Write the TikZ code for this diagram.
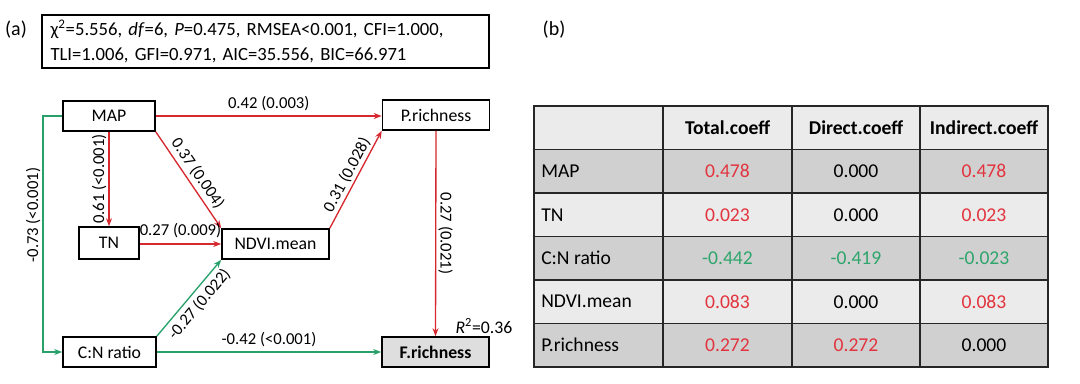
\documentclass[tikz,border=0pt]{standalone}
\usepackage{fontspec}
\setmainfont{Carlito}
\usepackage{tikz}
\usetikzlibrary{arrows.meta}
\definecolor{pathred}{RGB}{214,40,47}
\definecolor{pathgreen}{RGB}{40,160,105}
\definecolor{valred}{RGB}{226,52,62}
\definecolor{valgreen}{RGB}{46,165,107}
\definecolor{lightrow}{RGB}{235,235,235}
\definecolor{darkrow}{RGB}{208,208,208}
\definecolor{boxgray}{RGB}{222,222,222}
\newlength\pxu
\setlength\pxu{0.75pt}

\begin{document}
\begin{tikzpicture}[x=0.75pt,y=-0.75pt,
  box/.style={draw,line width=1.2pt,minimum height=30\pxu,inner sep=0pt,font=\fontsize{13.3}{16}\selectfont},
  lab/.style={font=\fontsize{12.5}{15}\selectfont,inner sep=1.5pt},
  posarr/.style={draw=pathred,line width=1pt,-{Stealth[length=6pt,width=4.5pt]}},
  negarr/.style={draw=pathgreen,line width=1pt,-{Stealth[length=6pt,width=4.5pt]}},
  cell/.style={font=\fontsize{14.7}{17}\selectfont,inner sep=0pt},
  head/.style={font=\fontsize{14.7}{17}\selectfont\bfseries,inner sep=0pt}]
\useasboundingbox (0,0) rectangle (1080,383);

% (a) path model
\node[font=\fontsize{15}{17}\selectfont] (pa) at (16,30) {(a)};
\node[draw,line width=0.9pt,minimum width=447\pxu,minimum height=53\pxu,text width=430\pxu,
  align=left,inner xsep=8\pxu,font=\fontsize{14}{19}\selectfont] (fit) at (265.5,41.5)
  {χ\textsuperscript{2}=5.556, \textit{df}=6, \textit{P}=0.475, RMSEA<0.001, CFI=1.000,\\
   TLI=1.006, GFI=0.971, AIC=35.556, BIC=66.971};

\node[box,minimum width=92\pxu] (map) at (109,116) {MAP};
\node[box,minimum width=107\pxu] (prich) at (436,115) {P.richness};
\node[box,minimum width=60\pxu,minimum height=32\pxu] (tn) at (109,243) {TN};
\node[box,minimum width=107\pxu] (ndvi) at (275.5,244) {NDVI.mean};
\node[box,minimum width=93\pxu] (cn) at (109.5,352) {C:N ratio};
\node[box,minimum width=107\pxu,fill=boxgray,font=\fontsize{13.3}{16}\selectfont\bfseries] (frich) at (435.5,352) {F.richness};
\node[lab,font=\fontsize{13.3}{16}\selectfont] (r2) at (484,326) {\textit{R}\textsuperscript{2}=0.36};

\coordinate (bend) at (43,116);

\draw[posarr] (map.east) -- (map.east -| prich.west) node[lab,midway,above=2pt] {0.42 (0.003)};
\draw[posarr] (map.south) -- (tn.north) node[lab,midway,rotate=90,anchor=south] {0.61 (<0.001)};
\draw[posarr] (map.south east) -- (ndvi.north west) node[lab,midway,sloped,above=1pt] {0.37 (0.004)};
\draw[posarr] (tn.east |- ndvi.west) -- (ndvi.west) node[lab,midway,above=3pt] {0.27 (0.009)};
\draw[posarr] (ndvi.north east) -- (prich.south west) node[lab,midway,sloped,above] {0.31 (0.028)};
\draw[posarr] (prich.south) -- (frich.north) node[lab,midway,rotate=-90,anchor=south] {0.27 (0.021)};
\draw[negarr] (map.west) -- (bend) |- (cn.west) node[lab,pos=0.21,rotate=90,anchor=south] {-0.73 (<0.001)};
\draw[negarr] (cn.north east) -- (ndvi.south west) node[lab,pos=0.52,sloped,below=1.5pt] {-0.27 (0.022)};
\draw[negarr] (cn.east) -- (frich.west) node[lab,midway,above=2pt] {-0.42 (<0.001)};

% (b) effects table
\node[font=\fontsize{15}{17}\selectfont] (pb) at (554,30) {(b)};
\fill[lightrow] (534,106) rectangle (1048,149.5);
\fill[darkrow] (534,149.5) rectangle (1048,193);
\fill[lightrow] (534,193) rectangle (1048,236.5);
\fill[darkrow] (534,236.5) rectangle (1048,280);
\fill[lightrow] (534,280) rectangle (1048,323.5);
\fill[darkrow] (534,323.5) rectangle (1048,367);
\draw[line width=1.1pt,black!85] (534,106) rectangle (1048,367);
\foreach \x in {663,792,920}
  \draw[line width=1.1pt,black!85] (\x,106) -- (\x,367);
\foreach \y in {149.5,193,236.5,280,323.5}
  \draw[line width=1.1pt,black!85] (534,\y) -- (1048,\y);

\node[head] (htot) at (727.5,128) {Total.coeff};
\node[head] (hdir) at (856,128) {Direct.coeff};
\node[head] (hind) at (984,128) {Indirect.coeff};

\node[cell,anchor=west] (rmap) at (541,171.25) {MAP};
\node[cell,text=valred] (tmap) at (727.5,171.25) {0.478};
\node[cell] (dmap) at (856,171.25) {0.000};
\node[cell,text=valred] (imap) at (984,171.25) {0.478};

\node[cell,anchor=west] (rtn) at (541,214.75) {TN};
\node[cell,text=valred] (ttn) at (727.5,214.75) {0.023};
\node[cell] (dtn) at (856,214.75) {0.000};
\node[cell,text=valred] (itn) at (984,214.75) {0.023};

\node[cell,anchor=west] (rcn) at (541,258.25) {C:N ratio};
\node[cell,text=valgreen] (tcn) at (727.5,258.25) {-0.442};
\node[cell,text=valgreen] (dcn) at (856,258.25) {-0.419};
\node[cell,text=valgreen] (icn) at (984,258.25) {-0.023};

\node[cell,anchor=west] (rndvi) at (541,301.75) {NDVI.mean};
\node[cell,text=valred] (tndvi) at (727.5,301.75) {0.083};
\node[cell] (dndvi) at (856,301.75) {0.000};
\node[cell,text=valred] (indvi) at (984,301.75) {0.083};

\node[cell,anchor=west] (rpr) at (541,345.25) {P.richness};
\node[cell,text=valred] (tpr) at (727.5,345.25) {0.272};
\node[cell,text=valred] (dpr) at (856,345.25) {0.272};
\node[cell] (ipr) at (984,345.25) {0.000};
\end{tikzpicture}
\end{document}
